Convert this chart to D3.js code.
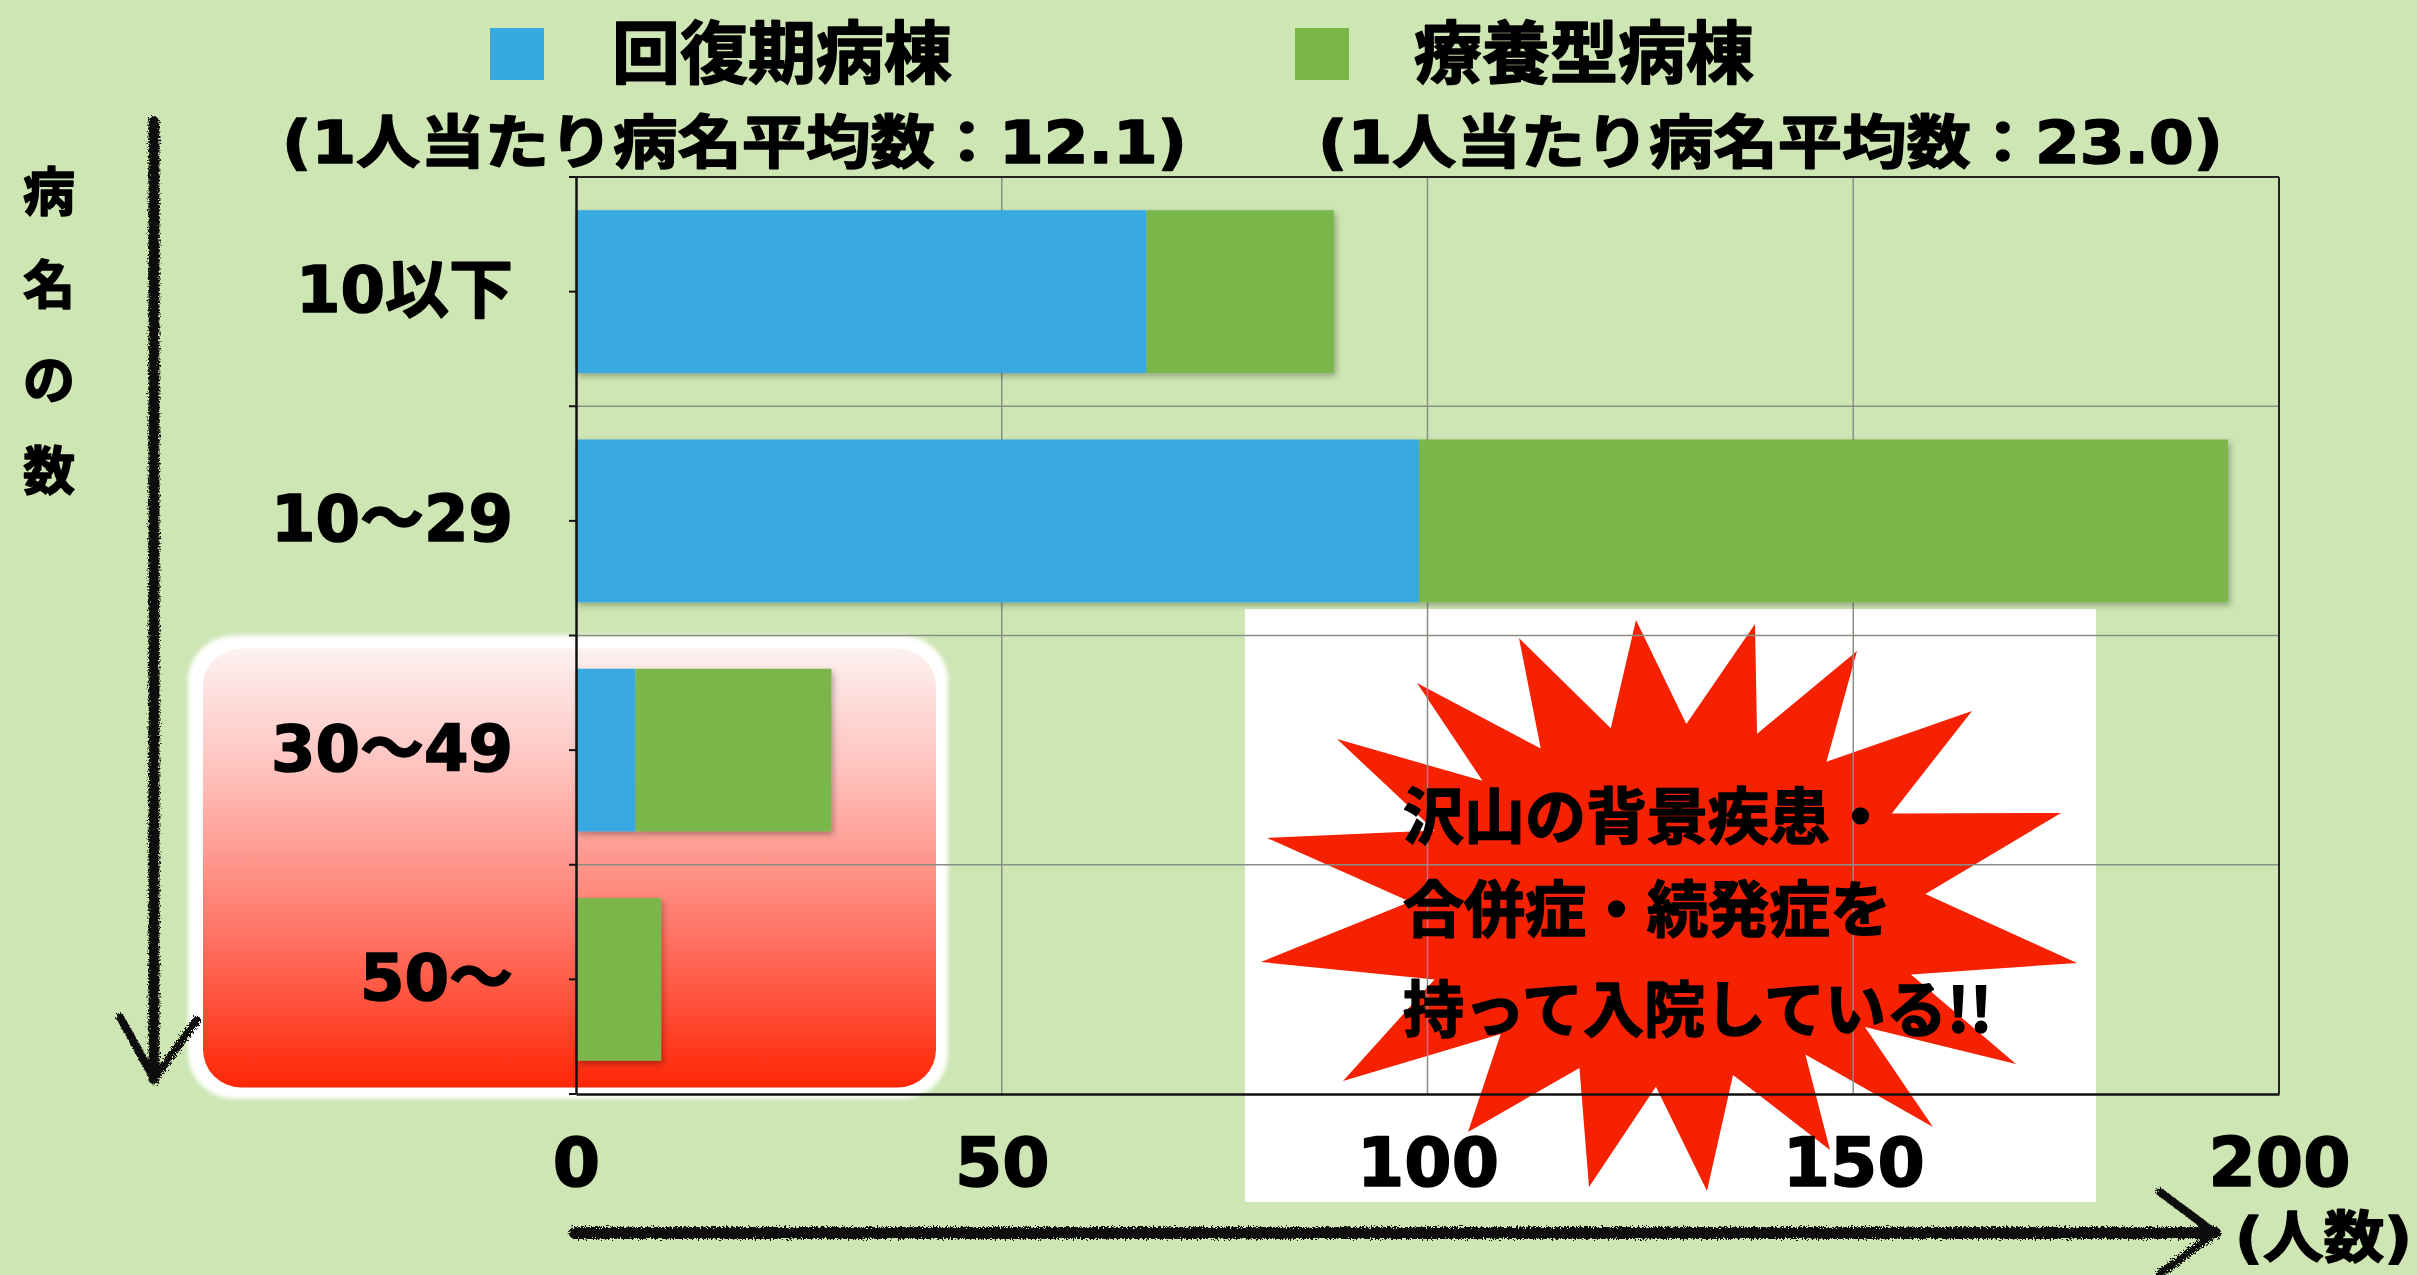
<!DOCTYPE html>
<html><head><meta charset="utf-8">
<script src="https://cdn.jsdelivr.net/npm/d3@7"></script>
<style>html,body{margin:0;padding:0;background:#cde6b4;overflow:hidden}
text{stroke:#000;stroke-width:1.6px;stroke-linejoin:round}</style>
</head><body>
<svg id="c" width="2417" height="1275"></svg>
<script>
// ---- data ----
const categories = ["10以下", "10〜29", "30〜49", "50〜"];
const seriesNames = ["回復期病棟", "療養型病棟"];
const seriesNotes = ["(1人当たり病名平均数：12.1)", "(1人当たり病名平均数：23.0)"];
const kaifukuki = [67, 99, 7, 0];
const ryouyou = [22, 95, 23, 10];
const xTicks = [0, 50, 100, 150, 200];
const yTitleChars = ["病", "名", "の", "数"];
const xTitle = "(人数)";
const calloutLines = ["沢山の背景疾患・", "合併症・続発症を", "持って入院している!!"];

// ---- styles ----
const W = 2417, H = 1275;
const BG = "#cde6b4";
const BLUE = "#37a9e1", GREEN = "#7ab648";
const FONT = "'DejaVu Sans','Noto Sans CJK JP',sans-serif";
const CJK = "'Noto Sans CJK JP',sans-serif";
const WT = 700;
const M = {left: 576, right: 2279, top: 177, bottom: 1094};

const svg = d3.select("#c");
svg.append("rect").attr("width", W).attr("height", H).attr("fill", BG);
const defs = svg.append("defs");

const grad = defs.append("linearGradient").attr("id", "redg").attr("x1", 0).attr("y1", 0).attr("x2", 0).attr("y2", 1);
[["0%", "#fdf2f1"], ["30%", "#ffbdb8"], ["65%", "#ff7466"], ["100%", "#ff2606"]].forEach(([o, c]) =>
  grad.append("stop").attr("offset", o).attr("stop-color", c));

const sh = defs.append("filter").attr("id", "shadow").attr("x", "-5%").attr("y", "-10%").attr("width", "115%").attr("height", "130%");
sh.append("feDropShadow").attr("dx", 2).attr("dy", 3).attr("stdDeviation", 3).attr("flood-color", "#000").attr("flood-opacity", 0.3);

const blur = defs.append("filter").attr("id", "soft");
blur.append("feGaussianBlur").attr("stdDeviation", 2);

const rough = defs.append("filter").attr("id", "rough").attr("x", "-5%").attr("y", "-5%").attr("width", "110%").attr("height", "110%");
rough.append("feTurbulence").attr("type", "fractalNoise").attr("baseFrequency", 0.6).attr("numOctaves", 2).attr("seed", 3).attr("result", "n");
rough.append("feDisplacementMap").attr("in", "SourceGraphic").attr("in2", "n").attr("scale", 7);

// ---- scales ----
const x = d3.scaleLinear().domain([0, 200]).range([M.left, M.right]);
const y = d3.scaleBand().domain(categories).range([M.top, M.bottom]).paddingInner(0.29).paddingOuter(0.145);
const step = y.step();

// ---- decorations behind chart ----
const boxTop = y(categories[2]) - step * 0.145;
svg.append("rect").attr("x", 188).attr("y", boxTop).attr("width", 760).attr("height", 463)
  .attr("rx", 46).attr("fill", "#fff").attr("filter", "url(#soft)");
svg.append("rect").attr("x", 203).attr("y", boxTop + 13).attr("width", 733).attr("height", 439)
  .attr("rx", 38).attr("fill", "url(#redg)");

svg.append("rect").attr("x", 1245).attr("y", 609).attr("width", 851).attr("height", 593).attr("fill", "#fff");
const cx = 1670, cy = 905;
const tips = [[-151,-267],[-34,-285],[85,-281],[187,-254],[302,-194],[391,-92],[407,58],[346,159],[263,222],[160,245],[37,286],[-81,282],[-202,227],[-327,176],[-409,57],[-403,-67],[-333,-166],[-253,-222]];
const pts = [];
tips.forEach((t, i) => {
  const n = tips[(i + 1) % tips.length];
  pts.push([cx + t[0], cy + t[1]]);
  pts.push([cx + (t[0] + n[0]) / 2 * 0.64, cy + (t[1] + n[1]) / 2 * 0.64]);
});
svg.append("path").attr("d", d3.line()(pts) + "Z").attr("fill", "#f52100");

// ---- grid ----
const g = svg.append("g");
g.selectAll("line.vg").data(xTicks.slice(1, -1)).join("line")
  .attr("x1", d => x(d)).attr("x2", d => x(d)).attr("y1", M.top).attr("y2", M.bottom)
  .attr("stroke", "#8a8f86").attr("stroke-width", 1.5);
g.selectAll("line.hg").data(categories.slice(1)).join("line")
  .attr("x1", M.left).attr("x2", M.right)
  .attr("y1", d => y(d) - step * 0.145).attr("y2", d => y(d) - step * 0.145)
  .attr("stroke", "#8a8f86").attr("stroke-width", 1.5);
g.append("line").attr("x1", M.left).attr("x2", M.right).attr("y1", M.top).attr("y2", M.top).attr("stroke", "#222").attr("stroke-width", 2);
g.append("line").attr("x1", M.right).attr("x2", M.right).attr("y1", M.top).attr("y2", M.bottom).attr("stroke", "#222").attr("stroke-width", 2);

// ---- bars ----
const stacked = categories.map((c, i) => ({c, a: kaifukuki[i], b: ryouyou[i]}));
const bars = svg.append("g").attr("filter", "url(#shadow)");
bars.selectAll("rect.a").data(stacked.filter(d => d.a > 0)).join("rect")
  .attr("x", x(0)).attr("y", d => y(d.c)).attr("width", d => x(d.a) - x(0)).attr("height", y.bandwidth())
  .attr("fill", BLUE);
bars.selectAll("rect.b").data(stacked).join("rect")
  .attr("x", d => x(d.a)).attr("y", d => y(d.c)).attr("width", d => x(d.a + d.b) - x(d.a)).attr("height", y.bandwidth())
  .attr("fill", GREEN);

// ---- axes ----
const xa = svg.append("g").attr("transform", `translate(0,${M.bottom})`)
  .call(d3.axisBottom(x).tickValues(xTicks).tickSize(0).tickPadding(44));
xa.select(".domain").attr("stroke", "#111").attr("stroke-width", 2.5);
xa.selectAll("text").attr("font-family", FONT).attr("font-weight", WT).attr("font-size", 68).attr("fill", "#000");

const ya = svg.append("g").attr("transform", `translate(${M.left},0)`)
  .call(d3.axisLeft(y).tickSize(0).tickPadding(63));
ya.select(".domain").attr("stroke", "#111").attr("stroke-width", 2.5);
ya.selectAll("text").attr("font-family", FONT).attr("font-weight", WT).attr("font-size", 64).attr("fill", "#000");
const tickYs = [];
categories.forEach(c => { tickYs.push(y(c) + y.bandwidth() / 2); tickYs.push(y(c) - step * 0.145); });
tickYs.push(M.bottom);
svg.append("g").selectAll("line").data(tickYs).join("line")
  .attr("x1", M.left - 7).attr("x2", M.left).attr("y1", d => d).attr("y2", d => d)
  .attr("stroke", "#111").attr("stroke-width", 2);

// ---- legend ----
const legX = [[490, 612, 282], [1295, 1414, 1318]];
[BLUE, GREEN].forEach((col, i) => {
  svg.append("rect").attr("x", legX[i][0]).attr("y", 28).attr("width", 54).attr("height", 52).attr("fill", col);
  svg.append("text").attr("x", legX[i][1]).attr("y", 54).attr("dominant-baseline", "central")
    .attr("font-family", FONT).attr("font-weight", WT).attr("font-size", 68).text(seriesNames[i]);
  svg.append("text").attr("x", legX[i][2]).attr("y", 143).attr("dominant-baseline", "central")
    .attr("font-family", FONT).attr("font-weight", WT).attr("font-size", 58)
    .attr("textLength", 905).attr("lengthAdjust", "spacingAndGlyphs").text(seriesNotes[i]);
});

// ---- axis titles ----
const yTitleYs = [188, 281, 376, 467];
svg.append("g").selectAll("text").data(yTitleChars).join("text")
  .attr("x", 49).attr("y", (d, i) => yTitleYs[i]).attr("text-anchor", "middle").attr("dominant-baseline", "central")
  .attr("font-family", CJK).attr("font-weight", WT).attr("font-size", 52).text(d => d);
svg.append("text").attr("x", 2235).attr("y", 1237).attr("dominant-baseline", "central")
  .attr("font-family", FONT).attr("font-weight", WT).attr("font-size", 56)
  .attr("textLength", 177).attr("lengthAdjust", "spacingAndGlyphs").text(xTitle);

// ---- rough arrows ----
const ar = svg.append("g").attr("filter", "url(#rough)").attr("fill", "none").attr("stroke", "#111")
  .attr("stroke-linecap", "round").attr("stroke-linejoin", "round");
ar.append("path").attr("d", "M154,122 L154,1079").attr("stroke-width", 11);
ar.append("path").attr("d", "M120,1017 L154,1079 L197,1020").attr("stroke-width", 8);
ar.append("path").attr("d", "M575,1233 L2215,1233").attr("stroke-width", 12);
ar.append("path").attr("d", "M2160,1192 L2215,1233 L2160,1274").attr("stroke-width", 8);

// ---- callout text ----
svg.append("g").selectAll("text").data(calloutLines).join("text")
  .attr("x", 1403).attr("y", (d, i) => [812, 905, 1005][i]).attr("dominant-baseline", "central")
  .attr("font-family", CJK).attr("font-weight", WT).attr("font-size", 61).attr("fill", "#000").text(d => d);
</script>
</body></html>
